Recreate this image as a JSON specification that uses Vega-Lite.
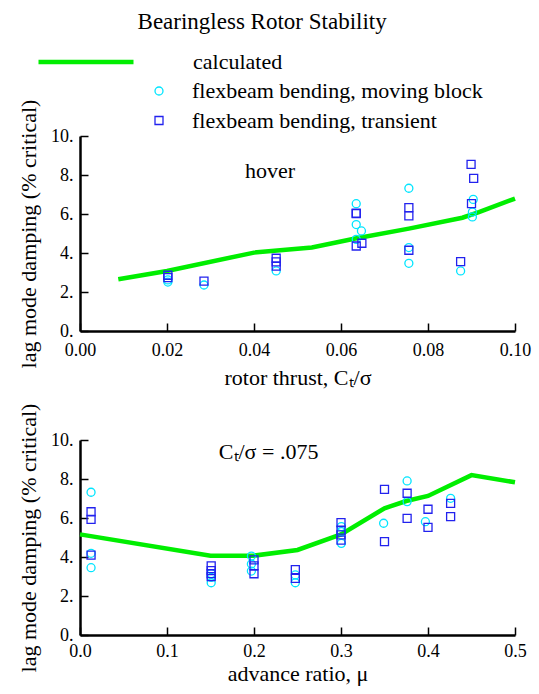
{
  "$schema": "https://vega.github.io/schema/vega-lite/v6.json",
  "padding": {"left": 17, "top": 11, "right": 5, "bottom": 5},
  "background": "white",
  "title": {"text": "Bearingless Rotor Stability", "font": "Liberation Serif", "fontSize": 23, "fontWeight": "normal", "color": "black", "anchor": "middle", "offset": 17, "dx": -12},
  "datasets": {
    "topCalc": [
      {"x": 0.0088, "y": 2.65}, {"x": 0.02, "y": 3.08}, {"x": 0.04, "y": 4.02}, {"x": 0.0533, "y": 4.28},
      {"x": 0.0633, "y": 4.74}, {"x": 0.0756, "y": 5.25}, {"x": 0.0879, "y": 5.81}, {"x": 0.0917, "y": 6.10}, {"x": 0.1, "y": 6.79}
    ],
    "topMeas": [
      {"x": 0.0202, "y": 2.51, "method": "flexbeam bending, moving block"},
      {"x": 0.0202, "y": 2.62, "method": "flexbeam bending, moving block"},
      {"x": 0.0285, "y": 2.36, "method": "flexbeam bending, moving block"},
      {"x": 0.0451, "y": 3.08, "method": "flexbeam bending, moving block"},
      {"x": 0.0635, "y": 6.53, "method": "flexbeam bending, moving block"},
      {"x": 0.0635, "y": 5.46, "method": "flexbeam bending, moving block"},
      {"x": 0.0635, "y": 4.70, "method": "flexbeam bending, moving block"},
      {"x": 0.0647, "y": 5.13, "method": "flexbeam bending, moving block"},
      {"x": 0.0756, "y": 7.32, "method": "flexbeam bending, moving block"},
      {"x": 0.0756, "y": 4.28, "method": "flexbeam bending, moving block"},
      {"x": 0.0756, "y": 3.47, "method": "flexbeam bending, moving block"},
      {"x": 0.0875, "y": 3.08, "method": "flexbeam bending, moving block"},
      {"x": 0.0904, "y": 6.75, "method": "flexbeam bending, moving block"},
      {"x": 0.0902, "y": 6.10, "method": "flexbeam bending, moving block"},
      {"x": 0.0902, "y": 5.85, "method": "flexbeam bending, moving block"},
      {"x": 0.0202, "y": 2.74, "method": "flexbeam bending, transient"},
      {"x": 0.0202, "y": 2.86, "method": "flexbeam bending, transient"},
      {"x": 0.0285, "y": 2.56, "method": "flexbeam bending, transient"},
      {"x": 0.0451, "y": 3.73, "method": "flexbeam bending, transient"},
      {"x": 0.0451, "y": 3.54, "method": "flexbeam bending, transient"},
      {"x": 0.0451, "y": 3.33, "method": "flexbeam bending, transient"},
      {"x": 0.0635, "y": 6.02, "method": "flexbeam bending, transient"},
      {"x": 0.0635, "y": 6.05, "method": "flexbeam bending, transient"},
      {"x": 0.0635, "y": 4.36, "method": "flexbeam bending, transient"},
      {"x": 0.0648, "y": 4.50, "method": "flexbeam bending, transient"},
      {"x": 0.0756, "y": 6.33, "method": "flexbeam bending, transient"},
      {"x": 0.0756, "y": 5.90, "method": "flexbeam bending, transient"},
      {"x": 0.0756, "y": 4.14, "method": "flexbeam bending, transient"},
      {"x": 0.0875, "y": 3.56, "method": "flexbeam bending, transient"},
      {"x": 0.0899, "y": 8.55, "method": "flexbeam bending, transient"},
      {"x": 0.0905, "y": 7.83, "method": "flexbeam bending, transient"},
      {"x": 0.0900, "y": 6.53, "method": "flexbeam bending, transient"}
    ],
    "botCalc": [
      {"x": 0.0, "y": 5.16}, {"x": 0.15, "y": 4.07}, {"x": 0.2, "y": 4.07}, {"x": 0.25, "y": 4.36},
      {"x": 0.3, "y": 5.16}, {"x": 0.35, "y": 6.5}, {"x": 0.375, "y": 6.87}, {"x": 0.4, "y": 7.13},
      {"x": 0.45, "y": 8.2}, {"x": 0.5, "y": 7.83}
    ],
    "botMeas": [
      {"x": 0.0127, "y": 7.32, "method": "flexbeam bending, moving block"},
      {"x": 0.0127, "y": 4.19, "method": "flexbeam bending, moving block"},
      {"x": 0.0127, "y": 3.45, "method": "flexbeam bending, moving block"},
      {"x": 0.1508, "y": 2.68, "method": "flexbeam bending, moving block"},
      {"x": 0.1508, "y": 2.95, "method": "flexbeam bending, moving block"},
      {"x": 0.1508, "y": 3.15, "method": "flexbeam bending, moving block"},
      {"x": 0.197, "y": 4.05, "method": "flexbeam bending, moving block"},
      {"x": 0.197, "y": 3.64, "method": "flexbeam bending, moving block"},
      {"x": 0.197, "y": 3.28, "method": "flexbeam bending, moving block"},
      {"x": 0.2475, "y": 3.08, "method": "flexbeam bending, moving block"},
      {"x": 0.2475, "y": 2.68, "method": "flexbeam bending, moving block"},
      {"x": 0.3004, "y": 5.56, "method": "flexbeam bending, moving block"},
      {"x": 0.3004, "y": 5.30, "method": "flexbeam bending, moving block"},
      {"x": 0.3004, "y": 4.70, "method": "flexbeam bending, moving block"},
      {"x": 0.349, "y": 5.73, "method": "flexbeam bending, moving block"},
      {"x": 0.376, "y": 7.9, "method": "flexbeam bending, moving block"},
      {"x": 0.376, "y": 6.84, "method": "flexbeam bending, moving block"},
      {"x": 0.397, "y": 5.81, "method": "flexbeam bending, moving block"},
      {"x": 0.426, "y": 7.01, "method": "flexbeam bending, moving block"},
      {"x": 0.0127, "y": 6.32, "method": "flexbeam bending, transient"},
      {"x": 0.0127, "y": 5.93, "method": "flexbeam bending, transient"},
      {"x": 0.0127, "y": 4.10, "method": "flexbeam bending, transient"},
      {"x": 0.1508, "y": 3.55, "method": "flexbeam bending, transient"},
      {"x": 0.1508, "y": 3.30, "method": "flexbeam bending, transient"},
      {"x": 0.1508, "y": 3.15, "method": "flexbeam bending, transient"},
      {"x": 0.1508, "y": 2.99, "method": "flexbeam bending, transient"},
      {"x": 0.2, "y": 3.85, "method": "flexbeam bending, transient"},
      {"x": 0.2, "y": 3.55, "method": "flexbeam bending, transient"},
      {"x": 0.2, "y": 3.14, "method": "flexbeam bending, transient"},
      {"x": 0.2475, "y": 3.35, "method": "flexbeam bending, transient"},
      {"x": 0.2475, "y": 2.90, "method": "flexbeam bending, transient"},
      {"x": 0.3, "y": 5.76, "method": "flexbeam bending, transient"},
      {"x": 0.3, "y": 5.38, "method": "flexbeam bending, transient"},
      {"x": 0.3, "y": 5.13, "method": "flexbeam bending, transient"},
      {"x": 0.3, "y": 4.87, "method": "flexbeam bending, transient"},
      {"x": 0.35, "y": 7.47, "method": "flexbeam bending, transient"},
      {"x": 0.35, "y": 4.79, "method": "flexbeam bending, transient"},
      {"x": 0.376, "y": 7.27, "method": "flexbeam bending, transient"},
      {"x": 0.376, "y": 5.98, "method": "flexbeam bending, transient"},
      {"x": 0.4, "y": 6.45, "method": "flexbeam bending, transient"},
      {"x": 0.4, "y": 5.52, "method": "flexbeam bending, transient"},
      {"x": 0.426, "y": 6.75, "method": "flexbeam bending, transient"},
      {"x": 0.426, "y": 6.07, "method": "flexbeam bending, transient"}
    ]
  },
  "vconcat": [
    {
      "width": 435,
      "height": 195,
      "layer": [
        {
          "data": {"name": "topCalc"},
          "mark": {"type": "line", "strokeWidth": 4.5},
          "encoding": {
            "x": {"field": "x", "type": "quantitative", "scale": {"domain": [0, 0.1]},
              "axis": {"values": [0, 0.02, 0.04, 0.06, 0.08, 0.1], "tickCount": 12, "format": ".2f", "title": "rotor thrust, Cₜ/σ", "labelOverlap": false, "titlePadding": 8}},
            "y": {"field": "y", "type": "quantitative", "scale": {"domain": [0, 10]},
              "axis": {"values": [0, 2, 4, 6, 8, 10], "tickCount": 12, "labelExpr": "datum.value + '.'", "title": "lag mode damping (% critical)", "labelOverlap": false}},
            "color": {"datum": "calculated", "type": "nominal",
              "scale": {"domain": ["calculated"], "range": ["#00ee00"]},
              "legend": {"orient": "none", "legendX": -5, "legendY": -85, "title": null, "symbolType": "M-10,0H10", "symbolSize": 90.25, "symbolStrokeWidth": 4.5, "labelOffset": 96, "labelLimit": 0, "padding": 0, "labelFont": "Liberation Serif", "labelFontSize": 22, "labelColor": "black"}}
          }
        },
        {
          "data": {"name": "topMeas"},
          "mark": {"type": "point", "filled": false, "size": 64, "strokeWidth": 1.3, "opacity": 1},
          "encoding": {
            "x": {"field": "x", "type": "quantitative"},
            "y": {"field": "y", "type": "quantitative"},
            "stroke": {"field": "method", "type": "nominal",
              "scale": {"domain": ["flexbeam bending, moving block", "flexbeam bending, transient"], "range": ["#00e5ff", "#2222ee"]},
              "legend": {"orient": "none", "legendX": 68, "legendY": -56, "title": null, "symbolSize": 64, "symbolStrokeWidth": 1.3, "rowPadding": 7.5, "labelOffset": 22, "labelLimit": 0, "padding": 0, "labelFont": "Liberation Serif", "labelFontSize": 22, "labelColor": "black"}},
            "shape": {"field": "method", "type": "nominal",
              "scale": {"domain": ["flexbeam bending, moving block", "flexbeam bending, transient"], "range": ["circle", "square"]},
              "legend": {"orient": "none", "legendX": 68, "legendY": -56, "title": null, "symbolSize": 64, "symbolStrokeWidth": 1.3, "rowPadding": 7.5, "labelOffset": 22, "labelLimit": 0, "padding": 0, "labelFont": "Liberation Serif", "labelFontSize": 22, "labelColor": "black"}}
          }
        },
        {
          "data": {"values": [{"x": 0.0437, "y": 8.2, "label": "hover"}]},
          "mark": {"type": "text", "font": "Liberation Serif", "fontSize": 22, "color": "black", "baseline": "middle", "align": "center"},
          "encoding": {
            "x": {"field": "x", "type": "quantitative"},
            "y": {"field": "y", "type": "quantitative"},
            "text": {"field": "label"}
          }
        }
      ]
    },
    {
      "width": 435,
      "height": 195,
      "layer": [
        {
          "data": {"name": "botCalc"},
          "mark": {"type": "line", "strokeWidth": 4.5},
          "encoding": {
            "x": {"field": "x", "type": "quantitative", "scale": {"domain": [0, 0.5]},
              "axis": {"values": [0, 0.1, 0.2, 0.3, 0.4, 0.5], "tickCount": 12, "format": ".1f", "title": "advance ratio, μ", "labelOverlap": false, "labelPadding": 15, "titlePadding": 3}},
            "y": {"field": "y", "type": "quantitative", "scale": {"domain": [0, 10]},
              "axis": {"values": [0, 2, 4, 6, 8, 10], "tickCount": 12, "labelExpr": "datum.value + '.'", "title": "lag mode damping (% critical)", "labelOverlap": false}},
            "color": {"datum": "calculated", "type": "nominal",
              "scale": {"domain": ["calculated"], "range": ["#00ee00"]}, "legend": null}
          }
        },
        {
          "data": {"name": "botMeas"},
          "mark": {"type": "point", "filled": false, "size": 64, "strokeWidth": 1.3, "opacity": 1},
          "encoding": {
            "x": {"field": "x", "type": "quantitative"},
            "y": {"field": "y", "type": "quantitative"},
            "stroke": {"field": "method", "type": "nominal",
              "scale": {"domain": ["flexbeam bending, moving block", "flexbeam bending, transient"], "range": ["#00e5ff", "#2222ee"]}, "legend": null},
            "shape": {"field": "method", "type": "nominal",
              "scale": {"domain": ["flexbeam bending, moving block", "flexbeam bending, transient"], "range": ["circle", "square"]}, "legend": null}
          }
        },
        {
          "data": {"values": [{"x": 0.2168, "y": 9.4, "label": "Cₜ/σ = .075"}]},
          "mark": {"type": "text", "font": "Liberation Serif", "fontSize": 22, "color": "black", "baseline": "middle", "align": "center"},
          "encoding": {
            "x": {"field": "x", "type": "quantitative"},
            "y": {"field": "y", "type": "quantitative"},
            "text": {"field": "label"}
          }
        }
      ]
    }
  ],
  "spacing": 14,
  "resolve": {"scale": {"color": "independent", "stroke": "independent", "shape": "independent"}},
  "config": {
    "view": {"stroke": null},
    "font": "Liberation Serif",
    "axis": {
      "grid": false,
      "domainColor": "black", "domainWidth": 2.5,
      "tickColor": "black", "tickWidth": 1.5, "tickSize": -8,
      "labelFont": "Liberation Serif", "labelFontSize": 18, "labelColor": "black",
      "labelFlush": false, "labelOverlap": false,
      "titleFont": "Liberation Serif", "titleFontSize": 22, "titleFontWeight": "normal", "titleColor": "black"
    },
    "axisX": {"labelPadding": 18.5},
    "axisY": {"labelPadding": 15, "titlePadding": 10}
  }
}
